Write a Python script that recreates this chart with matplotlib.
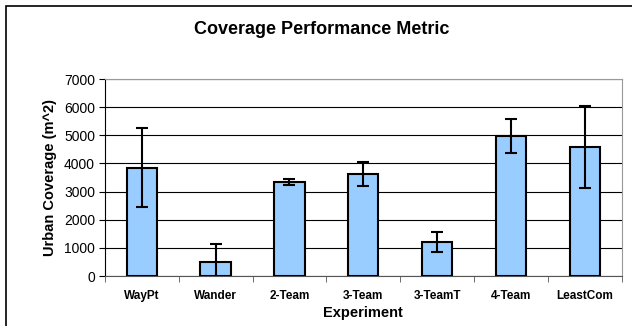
import numpy as np
import matplotlib
matplotlib.use("Agg")
import matplotlib.pyplot as plt
from matplotlib.patches import Rectangle

plt.rcParams['font.family'] = ['Liberation Sans', 'DejaVu Sans']

# данные
experiments = ["WayPt", "Wander", "2-Team", "3-Team", "3-TeamT", "4-Team", "LeastCom"]
coverage = [3850, 500, 3350, 3630, 1220, 4980, 4580]
coverage_err = [1410, 650, 110, 430, 350, 610, 1450]

W, H = 632, 326
fig = plt.figure(figsize=(W / 100, H / 100), dpi=100)
ax = fig.add_axes([104.7 / W, 1 - 276 / H, (622 - 104.7) / W, (276 - 79) / H])

# рамка вокруг всей картинки (уходит за правый и нижний край)
fig.patches.append(Rectangle((5.5 / W, -0.1), 1.2, 1 - 5.5 / H + 0.1,
                             transform=fig.transFigure, fill=False,
                             edgecolor="black", linewidth=1.2))

x = np.arange(len(experiments))
ax.bar(x, coverage, width=0.41, color="#99ccff", edgecolor="black", linewidth=1.5,
       zorder=3)
ax.errorbar(x, coverage, yerr=coverage_err, fmt="none", ecolor="black",
            elinewidth=1.5, capsize=4, capthick=1.5, zorder=4)

ax.set_xlim(-0.5, len(experiments) - 0.5)
ax.set_ylim(0, 7000)
ax.set_yticks(range(0, 7001, 1000))
ax.yaxis.grid(True, color="black", linewidth=0.8, zorder=0)
ax.set_axisbelow(True)

ax.set_xticks(x)
ax.set_xticklabels(experiments, fontsize=8.5, fontweight="bold")
ax.tick_params(axis="x", length=0, pad=10)
ax.set_xticks(np.arange(-0.5, len(experiments)), minor=True)
ax.tick_params(axis="x", which="minor", length=4, color="#555555")
ax.tick_params(axis="y", labelsize=10, length=4, pad=3)

for side in ["top", "right"]:
    ax.spines[side].set_color("#999999")
ax.spines["bottom"].set_color("#555555")
ax.spines["left"].set_color("black")

ax.set_ylabel("Urban Coverage (m^2)", fontsize=10.5, fontweight="bold", labelpad=5)
ax.set_xlabel("Experiment", fontsize=10.5, fontweight="bold", labelpad=3)

fig.text(322 / W, 1 - 30 / H, "Coverage Performance Metric", ha="center", va="center",
         fontsize=13, fontweight="bold")

fig.savefig("out.png", dpi=100)
